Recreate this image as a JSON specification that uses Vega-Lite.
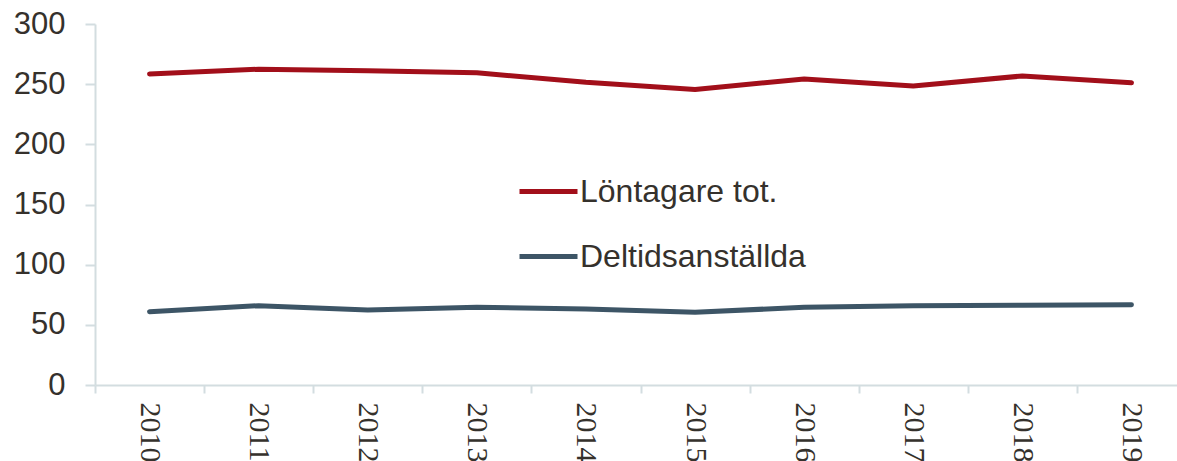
{
  "$schema": "https://vega.github.io/schema/vega-lite/v6.json",
  "autosize": {"type": "none"},
  "width": 1082,
  "height": 361,
  "padding": {"left": 95, "top": 24, "right": 0, "bottom": 76},
  "background": "white",
  "config": {"view": {"stroke": null}, "font": "Liberation Sans"},
  "data": {"values": [
    {"year": "2010", "series": "Löntagare tot.", "value": 258.5},
    {"year": "2011", "series": "Löntagare tot.", "value": 262.4},
    {"year": "2012", "series": "Löntagare tot.", "value": 261.2},
    {"year": "2013", "series": "Löntagare tot.", "value": 259.5},
    {"year": "2014", "series": "Löntagare tot.", "value": 251.5},
    {"year": "2015", "series": "Löntagare tot.", "value": 245.6},
    {"year": "2016", "series": "Löntagare tot.", "value": 254.3},
    {"year": "2017", "series": "Löntagare tot.", "value": 248.5},
    {"year": "2018", "series": "Löntagare tot.", "value": 256.8},
    {"year": "2019", "series": "Löntagare tot.", "value": 251.2},
    {"year": "2010", "series": "Deltidsanställda", "value": 60.9},
    {"year": "2011", "series": "Deltidsanställda", "value": 65.9},
    {"year": "2012", "series": "Deltidsanställda", "value": 62.3},
    {"year": "2013", "series": "Deltidsanställda", "value": 64.6},
    {"year": "2014", "series": "Deltidsanställda", "value": 63.2},
    {"year": "2015", "series": "Deltidsanställda", "value": 60.4},
    {"year": "2016", "series": "Deltidsanställda", "value": 64.6},
    {"year": "2017", "series": "Deltidsanställda", "value": 65.9},
    {"year": "2018", "series": "Deltidsanställda", "value": 66.2},
    {"year": "2019", "series": "Deltidsanställda", "value": 66.7}
  ]},
  "mark": {"type": "line", "strokeWidth": 5, "strokeCap": "round", "strokeJoin": "round"},
  "encoding": {
    "x": {
      "field": "year", "type": "ordinal",
      "scale": {"type": "band", "range": [0, 1091], "paddingInner": 0, "paddingOuter": 0},
      "axis": {
        "title": null, "labelAngle": 90, "labelFont": "Liberation Sans Narrow", "labelFontSize": 30,
        "labelColor": "#35312c", "labelPadding": 9, "tickBand": "extent",
        "domainColor": "#d3dde0", "domainWidth": 2, "tickColor": "#d3dde0", "tickWidth": 2, "tickSize": 8,
        "grid": false
      }
    },
    "y": {
      "field": "value", "type": "quantitative",
      "scale": {"domain": [0, 300]},
      "axis": {
        "title": null, "values": [0, 50, 100, 150, 200, 250, 300], "labelFontSize": 31,
        "labelColor": "#35312c", "labelPadding": 20, "tickSize": 10, "grid": false,
        "domainColor": "#d3dde0", "domainWidth": 2, "tickColor": "#d3dde0", "tickWidth": 2
      }
    },
    "color": {
      "field": "series", "type": "nominal",
      "scale": {"domain": ["Löntagare tot.", "Deltidsanställda"], "range": ["#a20f1a", "#3d5566"]},
      "legend": {
        "title": null, "orient": "none", "legendX": 422, "legendY": 136,
        "symbolType": "stroke", "symbolSize": 3364, "symbolStrokeWidth": 5,
        "labelFontSize": 32, "labelColor": "#35312c", "labelOffset": 0, "rowPadding": 17,
        "labelLimit": 400
      }
    }
  }
}
